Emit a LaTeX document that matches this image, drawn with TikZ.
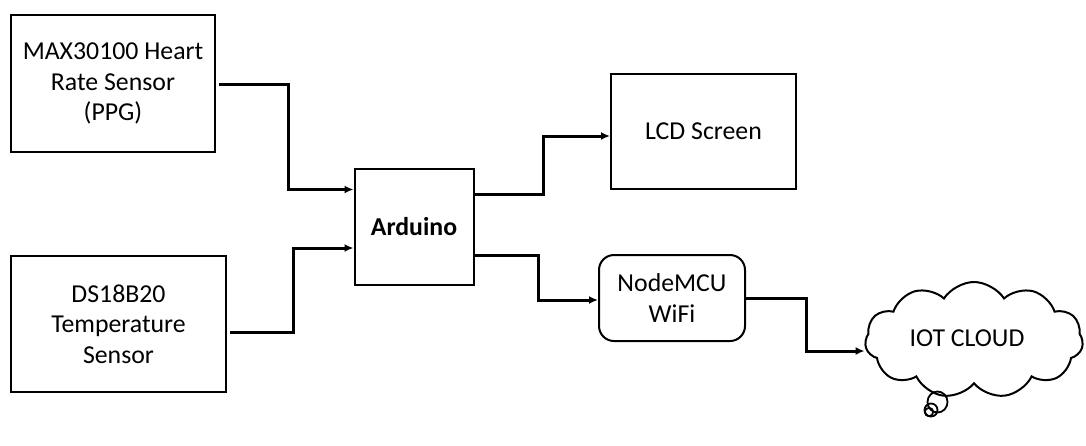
\documentclass[tikz,border=0pt]{standalone}
\usepackage{fontspec}
\setmainfont{Carlito}
\usetikzlibrary{shapes.symbols,arrows.meta,calc}
\begin{document}
\begin{tikzpicture}[x=1pt,y=-1pt,
  txt/.style={font=\fontsize{25.8}{30.5}\selectfont},
  blk/.style={draw,line width=2pt,rectangle,inner sep=0pt,align=center,txt},
  conn/.style={line width=3pt,-{Latex[length=9pt,width=8pt]},line join=miter}]
\useasboundingbox (0,0) rectangle (1086,445);
\node[blk,minimum width=204pt,minimum height=137pt] (max) at (113,83.5) {MAX30100 Heart\\Rate Sensor\\(PPG)};
\node[blk,minimum width=215pt,minimum height=136pt] (ds) at (118.5,324) {DS18B20\\Temperature\\Sensor};
\node[blk,minimum width=119pt,minimum height=116pt] (ard) at (414,227) {\bfseries Arduino};
\node[blk,minimum width=185pt,minimum height=115pt] (lcd) at (703.5,131.5) {LCD Screen};
\node[blk,minimum width=146pt,minimum height=86pt,rounded corners=15pt] (nmcu) at (672,298) {NodeMCU\\WiFi};
\node[cloud,draw,line width=2pt,cloud puffs=11,cloud puff arc=115,aspect=1.9,
  minimum width=218pt,minimum height=116pt,inner sep=0pt] (cloud) at (974,340) {};
\node[txt] (cloudtxt) at (967,338) {IOT CLOUD};
\draw[line width=1.8pt] (937.5,402) ellipse (10 and 10.5);
\draw[line width=1.8pt] (931,410) circle (6.5);
\draw[line width=1.8pt] (929,412) circle (4.2);
\draw[conn] ([xshift=3pt,yshift=-1pt]max.east) -- ++(69,0) |- ([yshift=37.5pt]ard.west);
\draw[conn] ([xshift=3pt,yshift=-8pt]ds.east) -- ++(63,0) |- ([yshift=-21pt]ard.west);
\draw[conn] ([yshift=33pt]ard.east) -- ++(69,0) |- ([yshift=-4.5pt]lcd.west);
\draw[conn] ([yshift=-28pt]ard.east) -- ++(64,0) |- ([yshift=-2pt]nmcu.west);
\coordinate (cin) at ([yshift=-11pt]cloud.west);
\draw[conn] (nmcu.east) -- ++(60,0) |- (cin);
\end{tikzpicture}
\end{document}
